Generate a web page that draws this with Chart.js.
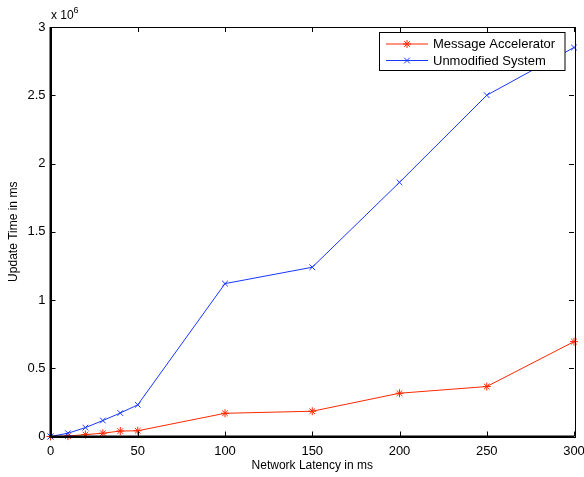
<!DOCTYPE html>
<html><head><meta charset="utf-8">
<script src="https://cdn.jsdelivr.net/npm/chart.js@4/dist/chart.umd.min.js"></script>
<style>html,body{margin:0;padding:0;background:#fff}#wrap{width:584px;height:477px}</style>
</head><body><div id="wrap"><canvas id="c" width="584" height="477"></canvas></div>
<script>
const latency = [0, 10, 20, 30, 40, 50, 100, 150, 200, 250, 300];
const accelerator = [0, 3000, 14000, 24000, 40000, 42000, 170000, 185000, 317000, 366000, 695000];
const unmodified = [0, 24000, 65000, 117000, 172000, 232000, 1120000, 1240000, 1862000, 2500000, 2850000];
const xTicks = [0, 50, 100, 150, 200, 250, 300];
const yTicks = [0, 500000, 1000000, 1500000, 2000000, 2500000, 3000000];
const seriesNames = ['Message Accelerator', 'Unmodified System'];

const RED = 'rgb(255,40,0)', BLUE = 'rgb(25,55,255)';
const FONT = '"Liberation Sans", Arial, Helvetica, sans-serif';

const framePlugin = {
  id: 'frame',
  afterDraw(chart) {
    const ctx = chart.ctx, a = chart.chartArea, xs = chart.scales.x, ys = chart.scales.y;
    ctx.save();
    ctx.strokeStyle = '#000';
    ctx.lineWidth = 1;
    ctx.beginPath();
    xTicks.forEach(v => {
      const px = Math.round(xs.getPixelForValue(v)) + 0.5;
      ctx.moveTo(px, a.bottom); ctx.lineTo(px, a.bottom - 5);
      ctx.moveTo(px, a.top); ctx.lineTo(px, a.top + 5);
    });
    yTicks.forEach(v => {
      const py = Math.round(ys.getPixelForValue(v)) + 0.5;
      ctx.moveTo(a.left, py); ctx.lineTo(a.left + 5, py);
      ctx.moveTo(a.right, py); ctx.lineTo(a.right - 5, py);
    });
    ctx.stroke();
    ctx.lineWidth = 1;
    ctx.strokeRect(Math.round(a.left)+0.5, Math.round(a.top)+0.5, Math.round(a.right-a.left), Math.round(a.bottom-a.top));
    ctx.lineWidth = 2;
    ctx.beginPath();
    ctx.moveTo(a.left, a.top); ctx.lineTo(a.left, a.bottom); ctx.lineTo(a.right, a.bottom);
    ctx.stroke();
    ctx.fillStyle = '#000';
    ctx.textBaseline = 'alphabetic';
    ctx.textAlign = 'left';
    ctx.font = '12px ' + FONT;
    ctx.fillText('x 10', 51, 19);
    ctx.font = '9px ' + FONT;
    ctx.fillText('6', 73.5, 13);
    const lx = 379.5, ly = 32.5, lw = 185.5, lh = 38;
    ctx.fillStyle = '#fff';
    ctx.fillRect(lx, ly, lw, lh);
    ctx.lineWidth = 1;
    ctx.strokeStyle = '#000';
    ctx.strokeRect(lx, ly, lw, lh);
    chart.data.datasets.forEach((ds, i) => {
      const cy = 44 + i * 16.5;
      ctx.strokeStyle = ds.borderColor;
      ctx.lineWidth = 1;
      ctx.beginPath(); ctx.moveTo(386, cy); ctx.lineTo(428, cy); ctx.stroke();
      Chart.helpers.drawPoint(ctx, {pointStyle: ds.pointStyle, radius: 4, borderWidth: 1}, 407, cy);
      ctx.fillStyle = '#000';
      ctx.font = '13px ' + FONT;
      ctx.textBaseline = 'middle';
      ctx.fillText(ds.label, 433, cy + 0.5);
    });
    ctx.restore();
  }
};

new Chart(document.getElementById('c'), {
  type: 'line',
  data: {
    datasets: [
      { label: seriesNames[0], data: latency.map((x, i) => ({x, y: accelerator[i]})),
        borderColor: RED, backgroundColor: RED, borderWidth: 1, pointStyle: 'star',
        pointRadius: 4, pointBorderWidth: 1, pointBorderColor: RED, tension: 0, order: 2, clip: false },
      { label: seriesNames[1], data: latency.map((x, i) => ({x, y: unmodified[i]})),
        borderColor: BLUE, backgroundColor: BLUE, borderWidth: 1, pointStyle: 'crossRot',
        pointRadius: 4, pointBorderWidth: 1, pointBorderColor: BLUE, tension: 0, order: 1, clip: false }
    ]
  },
  options: {
    responsive: false, animation: false, devicePixelRatio: 1,
    layout: { padding: { left: 0, right: 0, top: 27, bottom: 0 } },
    plugins: { legend: { display: false }, tooltip: { enabled: false } },
    scales: {
      x: { type: 'linear', min: 0, max: 300,
        afterBuildTicks: s => { s.ticks = xTicks.map(v => ({value: v})); },
        afterFit: s => { s.height = 40.5; s.paddingLeft = 0; s.paddingRight = 10; },
        grid: { display: false, drawTicks: false }, border: { display: false },
        ticks: { color: '#000', font: { family: FONT, size: 13 }, padding: 7, maxRotation: 0 },
        title: { display: true, text: 'Network Latency in ms', color: '#000', font: { family: FONT, size: 12 }, padding: { top: 0, bottom: 4 } } },
      y: { type: 'linear', min: 0, max: 3000000,
        afterBuildTicks: s => { s.ticks = yTicks.map(v => ({value: v})); },
        afterFit: s => { s.width = 50.5; s.paddingTop = 0; s.paddingBottom = 0; },
        grid: { display: false, drawTicks: false }, border: { display: false },
        ticks: { color: '#000', font: { family: FONT, size: 13 }, padding: 5, callback: v => String(v / 1e6) },
        title: { display: true, text: 'Update Time in ms', color: '#000', font: { family: FONT, size: 12 }, padding: { top: 6, bottom: 0 } } }
    }
  },
  plugins: [framePlugin]
});
</script></body></html>
